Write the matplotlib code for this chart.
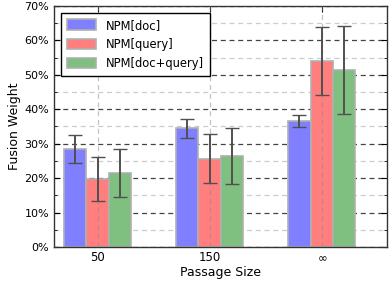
import numpy as np
import matplotlib
matplotlib.use("Agg")
import matplotlib.pyplot as plt
from matplotlib.ticker import FuncFormatter, MultipleLocator

# data
passage_sizes = ["50", "150", r"$\infty$"]
series = ["NPM[doc]", "NPM[query]", "NPM[doc+query]"]
doc_mean = [0.285, 0.345, 0.365]
doc_err = [0.040, 0.028, 0.017]
query_mean = [0.197, 0.256, 0.540]
query_err = [0.064, 0.071, 0.100]
both_mean = [0.216, 0.265, 0.514]
both_err = [0.070, 0.081, 0.128]

colors = ["#7f7fff", "#ff7f7f", "#7fbf7f"]

fig = plt.figure(figsize=(3.9, 2.82), dpi=100)
ax = fig.add_axes([0.138, 0.124, 0.854, 0.855])

x = np.arange(len(passage_sizes))
w = 0.2
for i, (m, e) in enumerate([(doc_mean, doc_err), (query_mean, query_err), (both_mean, both_err)]):
    ax.bar(x + (i - 1) * w, m, w, color=colors[i], edgecolor="#b0b0b0", linewidth=1.2,
           label=series[i], zorder=2)
    ax.errorbar(x + (i - 1) * w, m, yerr=e, fmt="none", ecolor="#505050",
                elinewidth=1.4, capsize=5, capthick=1.0, zorder=4)

ax.set_xlim(-0.39, 2.58)
ax.set_ylim(0, 0.7)
ax.set_xticks(x)
ax.set_xticklabels(passage_sizes, fontsize=8.5)
ax.yaxis.set_major_locator(MultipleLocator(0.1))
ax.yaxis.set_minor_locator(MultipleLocator(0.05))
ax.yaxis.set_major_formatter(FuncFormatter(lambda v, p: "%d%%" % round(v * 100)))
ax.tick_params(axis="y", labelsize=8, direction="in", length=4, right=True)
ax.tick_params(axis="y", which="minor", direction="in", length=2, right=True)
ax.tick_params(axis="x", direction="in", length=4, pad=3, top=True)

ax.grid(axis="y", which="major", linestyle=(0, (4, 3)), color="#444444", linewidth=0.9, zorder=0)
ax.grid(axis="y", which="minor", linestyle=(0, (4, 3)), color="#cccccc", linewidth=0.9, zorder=0)
ax.set_axisbelow(True)
# vertical dashed lines at the group ticks show on top of the bars
for xv in x:
    ax.axvline(xv, linestyle=(0, (4, 3)), color="#888888", alpha=0.5, linewidth=0.9, zorder=3)
for s in ax.spines.values():
    s.set_color("#333333")
    s.set_linewidth(1.0)

ax.set_xlabel("Passage Size", fontsize=9, labelpad=1)
ax.set_ylabel("Fusion Weight", fontsize=9, labelpad=2)

leg = ax.legend(loc="upper left", fontsize=8.3, fancybox=False, framealpha=1,
                edgecolor="black", handlelength=2.6, handleheight=1.0,
                borderaxespad=0.6, labelspacing=0.55, borderpad=0.5)
leg.set_zorder(5)
leg.get_frame().set_linewidth(1.0)

fig.savefig("out.png", dpi=100)
